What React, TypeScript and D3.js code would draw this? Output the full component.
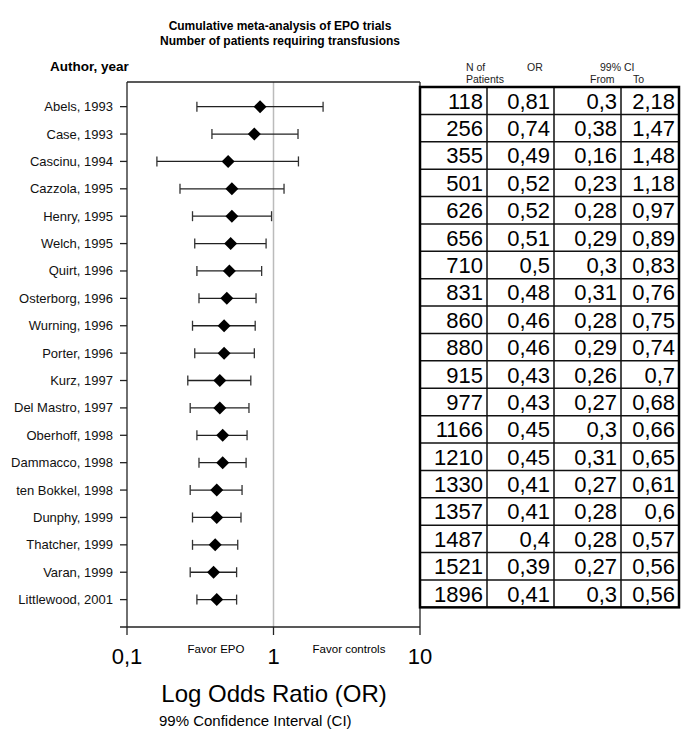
import React from "react";
import * as d3 from "d3";

const authors = ["Abels, 1993","Case, 1993","Cascinu, 1994","Cazzola, 1995","Henry, 1995","Welch, 1995","Quirt, 1996","Osterborg, 1996","Wurning, 1996","Porter, 1996","Kurz, 1997","Del Mastro, 1997","Oberhoff, 1998","Dammacco, 1998","ten Bokkel, 1998","Dunphy, 1999","Thatcher, 1999","Varan, 1999","Littlewood, 2001"];
const patients = [118,256,355,501,626,656,710,831,860,880,915,977,1166,1210,1330,1357,1487,1521,1896];
const oddsRatio = [0.81,0.74,0.49,0.52,0.52,0.51,0.5,0.48,0.46,0.46,0.43,0.43,0.45,0.45,0.41,0.41,0.4,0.39,0.41];
const ciFrom = [0.3,0.38,0.16,0.23,0.28,0.29,0.3,0.31,0.28,0.29,0.26,0.27,0.3,0.31,0.27,0.28,0.28,0.27,0.3];
const ciTo = [2.18,1.47,1.48,1.18,0.97,0.89,0.83,0.76,0.75,0.74,0.7,0.68,0.66,0.65,0.61,0.6,0.57,0.56,0.56];
const xTicks = [0.1, 1, 10];
const xTickLabels = ["0,1", "1", "10"];

const fmt = (v: number) => String(v).replace(".", ",");
const FONT = "'Liberation Sans', Arial, sans-serif";

export default function App() {
  const x = d3.scaleLog().domain([0.1, 10]).range([127, 420]);
  const y = d3.scaleLinear().domain([-0.9, 19]).range([82, 627]);
  const rowH = y(1) - y(0);
  const tTop = 87;
  const tRow = (i: number) => tTop + i * rowH;
  const cols = [420, 487, 554, 621, 679];
  const d = 6.5;
  const diamond = `M0,${-d}L${d},0L0,${d}L${-d},0Z`;
  const lineColor = "#222";

  return (
    <svg width={685} height={735} style={{ position: "absolute", left: 0, top: 0 }} fontFamily={FONT}>
      <rect width={685} height={735} fill="#fff" />
      <text x={280} y={30} textAnchor="middle" fontSize={12} fontWeight="bold">Cumulative meta-analysis of EPO trials</text>
      <text x={280} y={45} textAnchor="middle" fontSize={12} fontWeight="bold">Number of patients requiring transfusions</text>
      <text x={50} y={71} fontSize={13.5} fontWeight="bold">Author, year</text>

      {/* table header */}
      <g fontSize={10.5} fill="#222">
        <text x={466} y={71}>N of</text>
        <text x={466} y={83}>Patients</text>
        <text x={527} y={71}>OR</text>
        <text x={600} y={71}>99% CI</text>
        <text x={590} y={83}>From</text>
        <text x={633} y={83}>To</text>
      </g>

      {/* reference line at 1 */}
      <line x1={x(1)} x2={x(1)} y1={82} y2={627} stroke="#bbb" strokeWidth={1.5} />

      {/* plot frame */}
      <line x1={127} x2={127} y1={82} y2={627} stroke={lineColor} strokeWidth={1.3} />
      <line x1={127} x2={420} y1={82} y2={82} stroke={lineColor} strokeWidth={1.3} />
      <line x1={420} x2={420} y1={82} y2={627} stroke={lineColor} strokeWidth={1.3} />
      <line x1={120} x2={420} y1={627} y2={627} stroke={lineColor} strokeWidth={1.3} />
      {xTicks.map((t) => (
        <line key={t} x1={x(t)} x2={x(t)} y1={627} y2={635} stroke={lineColor} strokeWidth={1.3} />
      ))}
      {xTicks.map((t, i) => (
        <text key={"l" + t} x={x(t)} y={664} textAnchor="middle" fontSize={22}>{xTickLabels[i]}</text>
      ))}
      <text x={216} y={653} textAnchor="middle" fontSize={11.5}>Favor EPO</text>
      <text x={349} y={653} textAnchor="middle" fontSize={11.5}>Favor controls</text>
      <text x={274} y={702} textAnchor="middle" fontSize={24}>Log Odds Ratio (OR)</text>
      <text x={159} y={726} fontSize={15}>99% Confidence Interval (CI)</text>

      {/* rows */}
      {authors.map((a, i) => {
        const cy = y(i);
        return (
          <g key={a}>
            <line x1={120} x2={127} y1={cy} y2={cy} stroke={lineColor} strokeWidth={1.3} />
            <text x={113} y={cy + 4.5} textAnchor="end" fontSize={13} fill="#111">{a}</text>
            <line x1={x(ciFrom[i])} x2={x(ciTo[i])} y1={cy} y2={cy} stroke="#222" strokeWidth={1.3} />
            <line x1={x(ciFrom[i])} x2={x(ciFrom[i])} y1={cy - 5} y2={cy + 5} stroke="#333" strokeWidth={1.3} />
            <line x1={x(ciTo[i])} x2={x(ciTo[i])} y1={cy - 5} y2={cy + 5} stroke="#333" strokeWidth={1.3} />
            <path d={diamond} transform={`translate(${x(oddsRatio[i])},${cy})`} fill="#000" />
          </g>
        );
      })}

      {/* table */}
      <g>
        {authors.map((a, i) => {
          const ty = tRow(i);
          const vals = [String(patients[i]), fmt(oddsRatio[i]), fmt(ciFrom[i]), fmt(ciTo[i])];
          return (
            <g key={"t" + a}>
              {i > 0 && <line x1={cols[0]} x2={cols[4]} y1={ty} y2={ty} stroke="#111" strokeWidth={1.5} />}
              {vals.map((v, j) => (
                <text key={j} x={cols[j + 1] - 4} y={ty + rowH / 2 + 8} textAnchor="end" fontSize={22} fill="#000">{v}</text>
              ))}
            </g>
          );
        })}
        {cols.slice(1, 4).map((c) => (
          <line key={c} x1={c} x2={c} y1={tTop} y2={tRow(19)} stroke="#111" strokeWidth={1.5} />
        ))}
        <rect x={cols[0]} y={tTop} width={cols[4] - cols[0]} height={tRow(19) - tTop} fill="none" stroke="#000" strokeWidth={2.5} />
      </g>
    </svg>
  );
}
